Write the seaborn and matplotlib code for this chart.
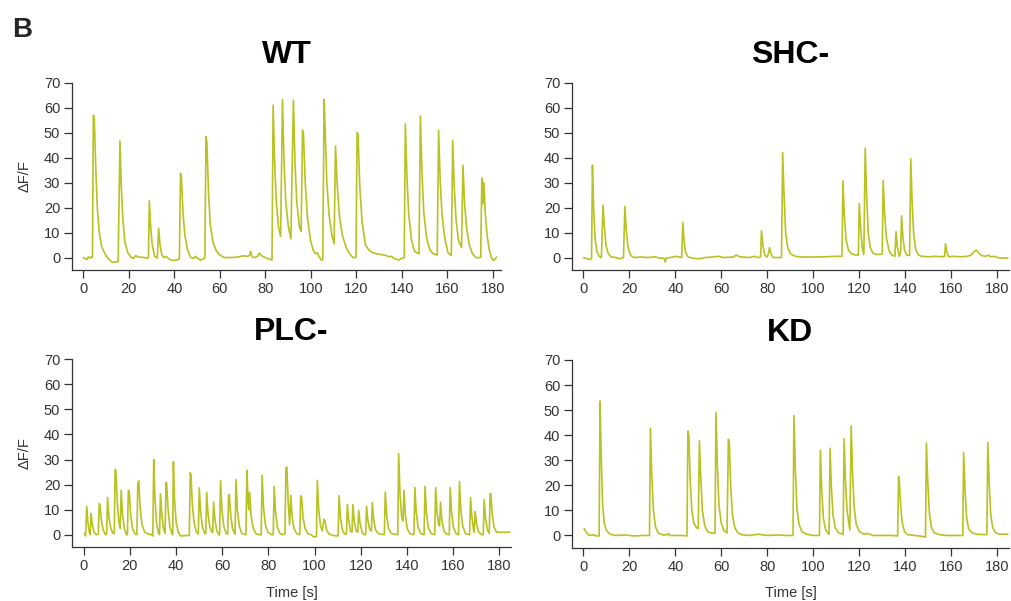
import matplotlib
matplotlib.use("Agg")
import matplotlib.pyplot as plt
import seaborn as sns
import pandas as pd

sns.set_style("ticks")
plt.rcParams["font.family"] = ["Liberation Sans", "DejaVu Sans"]

# (time [s], dF/F) vertices
wt_trace = [
    (0.0, 0.0), (0.8, -0.5), (1.5, -0.8), (2.2, 0.3), (2.8, -0.2), (3.5, 0.2), (4.0, 0.0),
    (4.4, 57.0), (4.8, 56.0), (5.5, 35.0), (6.2, 19.0), (7.0, 10.0), (8.0, 4.5), (9.5, 1.5),
    (11.0, -0.5), (12.5, -1.8), (14.0, -1.8), (15.3, -1.6),
    (16.1, 46.7), (16.7, 28.0), (17.4, 15.0), (18.3, 6.0), (19.5, 2.0), (21.0, 0.0), (22.0, -0.3),
    (23.0, 0.8), (24.0, 0.2), (26.0, 0.1), (28.0, -0.2), (28.6, 0.0),
    (29.0, 22.7), (29.6, 12.0), (30.3, 5.0), (31.3, 0.5), (32.5, -0.2),
    (33.1, 11.7), (33.7, 5.0), (34.5, 1.0), (35.5, 0.0), (36.3, 0.5), (37.5, -0.5), (39.0, -1.2),
    (41.0, -1.0), (42.2, -0.5),
    (42.7, 33.7), (43.1, 32.0), (43.8, 18.0), (44.6, 9.0), (45.8, 3.0), (47.2, 0.0), (48.5, -0.3),
    (49.3, 0.5), (50.5, -0.5), (51.5, -1.0), (52.8, -0.5), (53.4, 0.0),
    (53.9, 48.4), (54.3, 46.0), (55.0, 26.0), (55.8, 13.0), (57.0, 6.0), (58.5, 2.5), (60.0, 1.0),
    (62.0, 0.0), (65.0, 0.0), (68.0, 0.2), (70.0, 0.7), (72.0, 0.5), (73.0, 0.8), (73.5, 2.5),
    (74.2, 0.3), (75.5, 0.0), (76.5, 0.5), (77.3, 1.8), (78.3, 0.7), (80.0, 0.0), (81.5, -0.5), (82.9, -1.0),
    (83.4, 61.0), (84.0, 40.0), (84.8, 22.0), (85.8, 12.0), (86.7, 8.5),
    (87.5, 63.3), (88.2, 38.0), (89.0, 22.0), (90.0, 13.0), (91.2, 7.5),
    (92.3, 63.0), (93.0, 38.0), (93.8, 22.0), (95.0, 12.0), (95.7, 10.5),
    (96.3, 51.0), (96.7, 50.0), (97.5, 30.0), (98.5, 16.0), (99.8, 7.0), (101.0, 3.0), (102.0, 1.5),
    (102.8, 2.0), (103.5, 0.5), (104.5, -1.0), (105.2, -0.8),
    (105.8, 63.3), (106.3, 50.0), (107.0, 30.0), (108.0, 17.0), (109.2, 9.0), (110.2, 5.5),
    (110.8, 44.7), (111.5, 30.0), (112.5, 17.0), (113.8, 9.0), (115.5, 4.0), (117.0, 1.5),
    (118.5, 0.0), (119.8, 0.0),
    (120.3, 50.0), (120.7, 49.5), (121.5, 28.0), (122.5, 14.0), (124.0, 5.0), (125.5, 3.0),
    (127.0, 2.0), (129.0, 1.5), (131.0, 1.2), (133.0, 0.8), (134.5, 0.3), (135.5, 0.5),
    (136.5, -0.3), (138.5, -1.0), (139.5, -0.5), (141.0, 0.0),
    (141.5, 53.5), (142.2, 32.0), (143.0, 17.0), (144.2, 7.0), (145.5, 2.5), (147.5, 1.5),
    (148.1, 56.7), (148.8, 34.0), (149.6, 18.0), (150.8, 8.0), (152.3, 3.0), (153.8, 1.5), (155.5, 1.0),
    (156.1, 51.0), (156.8, 31.0), (157.6, 17.0), (158.8, 8.0), (160.2, 2.0), (161.7, 0.8),
    (162.3, 47.0), (163.0, 28.0), (163.8, 15.0), (164.8, 7.0), (166.2, 4.0),
    (166.8, 37.0), (167.5, 22.0), (168.4, 12.0), (169.6, 5.0), (171.0, 1.5), (172.5, 0.0), (174.6, 0.0),
    (175.1, 31.8), (175.6, 21.5), (176.0, 30.0), (176.6, 18.0), (177.4, 9.0), (178.4, 3.0),
    (179.3, 0.0), (180.2, -1.2), (181.0, -0.5), (181.6, 0.2),
]

shc_trace = [
    (0.0, 0.0), (1.0, -0.3), (2.5, -0.8), (3.5, -0.5),
    (3.9, 37.0), (4.4, 20.0), (5.0, 8.0), (5.8, 2.5), (6.8, 0.5), (7.8, 0.0),
    (8.5, 21.0), (9.1, 12.0), (9.8, 5.0), (10.8, 1.5), (12.0, 0.3), (14.0, 0.0), (15.5, -0.5), (17.4, 0.0),
    (18.0, 20.5), (18.6, 11.0), (19.4, 4.0), (20.5, 0.8), (22.0, 0.0), (25.0, 0.2), (28.0, 0.0),
    (31.0, 0.3), (33.0, -0.2), (35.0, -0.3), (35.5, -1.8), (36.0, -0.2), (39.0, 0.2), (40.0, 0.5),
    (41.5, 0.3), (42.7, 0.0),
    (43.2, 14.0), (43.7, 7.0), (44.4, 2.0), (45.5, 0.2), (48.0, -0.3), (50.0, -0.5), (53.0, 0.0),
    (56.0, 0.2), (58.5, 0.5), (61.0, 0.0), (65.0, 0.2), (66.5, 1.0), (68.0, 0.3), (72.0, 0.0),
    (74.5, 0.5), (76.0, 0.0), (77.0, 0.2),
    (77.4, 10.7), (78.0, 5.0), (78.8, 1.0), (79.8, 0.2), (80.4, 1.5), (80.9, 4.0), (81.5, 1.5),
    (82.5, 0.0), (86.1, 0.0),
    (86.6, 42.0), (87.2, 25.0), (87.9, 10.0), (88.8, 4.0), (90.0, 1.5), (92.0, 0.5), (95.0, 0.2),
    (100.0, 0.2), (105.0, 0.3), (110.0, 0.5), (112.4, 0.5),
    (112.8, 30.7), (113.4, 17.0), (114.2, 7.0), (115.2, 3.0), (116.5, 1.5), (118.5, 1.0), (119.5, 1.0),
    (119.9, 21.6), (120.5, 12.0), (121.2, 4.0), (121.9, 1.2),
    (122.5, 43.8), (123.1, 25.0), (123.8, 10.0), (124.7, 4.0), (125.8, 1.8), (127.5, 1.2),
    (129.5, 1.3), (129.9, 1.5),
    (130.3, 30.9), (130.9, 18.0), (131.7, 8.0), (132.8, 3.0), (134.0, 1.0), (135.4, 0.5),
    (135.9, 10.4), (136.5, 4.0), (137.3, 0.5), (137.9, 2.0),
    (138.3, 16.7), (138.9, 8.0), (139.6, 3.0), (140.5, 1.0), (141.8, 0.8),
    (142.3, 39.6), (142.9, 22.0), (143.6, 9.0), (144.5, 3.0), (145.7, 1.0), (147.0, 0.5),
    (150.0, 0.3), (153.0, 0.5), (156.0, 0.3), (157.0, 0.5),
    (157.4, 5.5), (158.0, 2.0), (158.8, 0.3), (161.0, 0.5), (164.0, 0.3), (167.0, 0.5),
    (168.5, 1.0), (170.0, 2.5), (170.8, 3.0), (171.8, 2.0), (173.0, 0.8), (175.0, 0.5),
    (176.0, 1.0), (177.0, 0.3), (179.0, 0.5), (180.0, 0.0), (182.0, -0.2), (184.5, -0.2),
]

plc_trace = [
    (0.4, 0.5), (0.9, -0.5),
    (1.4, 11.3), (1.9, 5.0), (2.5, 1.0), (2.9, 0.0),
    (3.3, 8.4), (3.8, 4.0), (4.6, 1.0), (5.5, 0.0), (6.4, 0.3),
    (6.8, 12.4), (7.1, 12.0), (7.7, 6.0), (8.5, 2.0), (9.5, 0.0), (10.0, 0.2),
    (10.4, 14.8), (11.0, 7.0), (11.8, 2.5), (12.8, 0.5), (13.3, 0.5),
    (13.7, 26.0), (14.0, 25.5), (14.6, 13.0), (15.3, 5.0), (15.9, 2.5),
    (16.3, 17.7), (16.9, 8.0), (17.7, 2.5), (18.6, 0.0), (19.0, 0.0),
    (19.4, 17.7), (19.8, 17.5), (20.4, 8.0), (21.2, 2.5), (22.2, 0.5), (23.1, 0.0),
    (23.5, 20.4), (23.9, 21.5), (24.5, 11.0), (25.3, 4.0), (26.5, 1.0), (28.0, 0.3), (29.5, 0.0), (30.0, -0.5),
    (30.4, 30.0), (30.9, 15.0), (31.6, 5.0), (32.4, 1.0), (32.9, 0.0),
    (33.3, 16.4), (33.9, 8.0), (34.6, 2.5), (35.3, 0.5),
    (35.7, 21.0), (36.0, 20.5), (36.6, 10.0), (37.4, 3.0), (38.3, 0.3), (38.6, 0.0),
    (38.9, 29.1), (39.4, 14.0), (40.1, 5.0), (41.0, 1.0), (42.0, -0.5), (44.0, -0.3), (45.8, -0.3),
    (46.2, 24.7), (46.5, 24.0), (47.1, 12.0), (47.9, 4.5), (48.9, 1.0), (49.7, 0.3),
    (50.1, 18.7), (50.7, 9.0), (51.5, 3.0), (52.5, 0.5), (52.9, 0.3),
    (53.3, 17.0), (53.9, 8.0), (54.7, 3.0), (55.6, 1.0), (55.9, 1.0),
    (56.3, 13.0), (56.9, 6.0), (57.7, 1.5), (58.6, 0.0), (58.9, 0.0),
    (59.3, 21.7), (59.9, 10.0), (60.7, 3.5), (61.7, 0.5), (62.4, 0.3),
    (62.8, 15.7), (63.1, 16.0), (63.7, 8.0), (64.5, 2.5), (65.4, 0.5), (65.6, 0.3),
    (66.0, 22.0), (66.6, 10.0), (67.4, 3.5), (68.5, 0.5), (70.3, 0.0),
    (70.7, 25.7), (71.2, 14.0), (71.5, 10.0), (71.9, 17.0), (72.5, 8.0), (73.3, 3.0), (74.5, 0.5),
    (76.0, 0.0), (76.9, 0.0),
    (77.3, 23.7), (77.9, 11.0), (78.7, 4.0), (79.8, 1.0), (81.5, 0.0), (82.1, 0.0),
    (82.5, 19.3), (83.1, 9.0), (83.9, 3.0), (85.0, 0.5), (86.5, 0.0), (87.2, 0.5),
    (87.6, 26.5), (88.0, 27.0), (88.6, 13.0), (89.2, 4.0),
    (89.7, 15.7), (90.3, 7.0), (91.1, 2.5), (92.2, 0.5), (93.6, 0.0),
    (94.0, 15.5), (94.4, 15.0), (95.0, 7.0), (95.9, 2.5), (97.0, 0.5), (98.5, 0.0), (99.5, -0.8), (100.8, -0.8),
    (101.2, 21.7), (101.8, 10.0), (102.6, 3.5), (103.3, 1.5),
    (104.0, 6.1), (104.5, 5.5), (105.2, 2.0), (106.2, 0.3), (108.0, -0.3), (110.2, -0.5),
    (110.6, 15.6), (111.2, 7.0), (112.0, 2.0), (113.0, 0.3), (113.8, 0.3),
    (114.2, 12.1), (114.8, 5.5), (115.6, 1.5), (116.2, 1.0),
    (116.6, 12.0), (117.2, 5.5), (118.0, 1.5), (118.7, 1.0),
    (119.1, 9.7), (119.7, 4.5), (120.6, 1.0), (121.5, 0.0), (122.1, 0.0),
    (122.5, 11.3), (123.1, 5.5), (123.9, 2.0), (124.6, 1.5),
    (125.0, 12.9), (125.6, 6.0), (126.4, 2.0), (127.5, 0.5), (130.2, 0.0),
    (130.6, 17.0), (131.2, 8.0), (132.0, 2.5), (133.2, 0.5), (136.0, 0.0),
    (136.4, 32.4), (137.0, 16.0), (137.7, 7.0), (138.3, 5.5),
    (138.7, 17.7), (139.3, 8.0), (140.1, 2.5), (141.2, 0.5), (143.0, 0.0),
    (143.4, 18.9), (144.0, 9.0), (144.8, 3.0), (146.0, 0.5), (147.4, 0.0),
    (147.8, 19.3), (148.4, 9.0), (149.2, 3.0), (150.4, 0.5), (152.0, 0.0),
    (152.4, 18.8), (153.0, 9.0), (153.7, 4.0), (154.1, 3.5),
    (154.5, 13.0), (155.1, 6.0), (156.0, 1.5), (157.2, 0.2), (158.3, 0.0),
    (158.7, 18.8), (159.3, 9.0), (160.1, 3.0), (161.2, 0.5), (162.3, 0.0),
    (162.7, 21.2), (163.3, 10.0), (164.1, 3.5), (165.3, 0.5), (167.1, 0.0),
    (167.5, 14.8), (168.1, 7.0), (168.8, 2.0), (169.1, 1.0),
    (169.5, 9.3), (170.1, 4.5), (171.0, 1.0), (172.5, 0.0), (173.0, 0.0),
    (173.4, 14.0), (174.0, 6.5), (174.8, 2.0), (175.6, 0.5),
    (176.0, 16.4), (176.3, 16.4), (176.9, 8.0), (177.7, 3.0), (178.8, 1.0), (181.0, 1.0), (184.5, 1.0),
]

kd_trace = [
    (0.3, 2.7), (1.0, 1.5), (2.0, 0.3), (3.5, 0.0), (4.5, 0.3), (5.5, -0.2), (6.8, -0.2),
    (7.2, 53.6), (7.7, 32.0), (8.3, 13.0), (9.0, 5.0), (10.0, 2.0), (11.5, 0.5), (14.0, 0.0),
    (18.0, 0.2), (22.0, -0.2), (26.0, 0.0), (28.7, 0.0),
    (29.1, 42.8), (29.7, 24.0), (30.4, 10.0), (31.3, 3.5), (32.5, 1.0), (34.5, 0.2), (36.5, 0.3),
    (37.0, 0.8), (37.5, 0.0), (40.0, 0.0), (43.0, 0.0), (45.0, -0.2),
    (45.4, 41.7), (45.8, 40.0), (46.4, 22.0), (47.1, 10.0), (48.0, 5.0), (49.2, 3.0), (49.9, 2.8),
    (50.4, 37.7), (51.0, 23.0), (51.7, 10.0), (52.7, 4.0), (54.0, 1.5), (55.5, 1.0), (57.2, 0.8),
    (57.6, 49.0), (58.2, 28.0), (58.9, 12.0), (59.9, 5.0), (61.0, 2.0), (62.4, 1.0),
    (63.0, 38.4), (63.4, 37.0), (64.0, 20.0), (64.8, 8.0), (65.8, 3.0), (67.2, 1.0), (69.0, 0.3),
    (72.0, 0.0), (76.0, 0.5), (80.0, 0.0), (84.0, 0.2), (88.0, 0.0), (91.1, 0.0),
    (91.5, 47.8), (92.1, 27.0), (92.8, 11.0), (93.7, 4.5), (95.0, 1.5), (97.0, 0.5), (100.0, 0.0), (102.6, 0.0),
    (103.0, 34.0), (103.6, 18.0), (104.3, 7.0), (105.2, 2.5), (106.5, 0.7), (106.8, 0.5),
    (107.2, 34.8), (107.8, 19.0), (108.5, 8.0), (109.5, 3.0), (111.0, 1.0), (112.9, 0.5),
    (113.3, 38.5), (113.9, 22.0), (114.6, 10.0), (115.8, 2.2),
    (116.4, 43.7), (117.0, 25.0), (117.7, 11.0), (118.6, 4.5), (120.0, 1.5), (122.0, 0.5),
    (123.5, 0.8), (126.0, 0.0), (130.0, 0.0), (134.0, 0.0), (136.6, -0.2),
    (137.0, 23.5), (137.3, 22.0), (137.9, 12.0), (138.6, 5.0), (139.6, 1.5), (141.0, 0.3),
    (144.0, 0.0), (147.0, -0.3), (148.7, -0.7),
    (149.1, 36.8), (149.7, 21.0), (150.4, 9.0), (151.3, 3.0), (152.6, 1.0), (155.0, 0.3),
    (158.0, 0.0), (162.0, 0.0), (164.9, 0.0),
    (165.3, 33.0), (165.9, 18.0), (166.6, 7.0), (167.5, 2.5), (169.0, 1.0), (171.0, 0.5), (175.4, 0.3),
    (175.8, 37.0), (176.4, 21.0), (177.1, 8.0), (178.0, 3.0), (179.2, 1.0), (181.0, 0.5), (184.5, 0.5),
]

titles = ["WT", "SHC-", "PLC-", "KD"]
x_ticks = list(range(0, 181, 20))
y_ticks = list(range(0, 71, 10))
line_color = "#b8c220"
ink = "#333333"

fig = plt.figure(figsize=(10.12, 6.01), dpi=100)

# axes rectangles in figure fractions (left, bottom, width, height)
rects = [
    (0.0711, 0.5507, 0.4239, 0.3116),
    (0.5652, 0.5507, 0.4318, 0.3116),
    (0.0711, 0.0894, 0.4338, 0.3128),
    (0.5652, 0.0882, 0.4318, 0.3128),
]
xlims = [(-5, 183.5), (-5, 185), (-5, 185), (-5, 185)]
traces = [wt_trace, shc_trace, plc_trace, kd_trace]

for i, (trace, title, rect) in enumerate(zip(traces, titles, rects)):
    ax = fig.add_axes(rect)
    df = pd.DataFrame(trace, columns=["time", "dff"])
    sns.lineplot(data=df, x="time", y="dff", ax=ax, color=line_color,
                 linewidth=1.2, estimator=None, sort=False)
    ax.set_xlim(*xlims[i])
    ax.set_ylim(-5, 70)
    ax.set_xticks(x_ticks)
    ax.set_yticks(y_ticks)
    sns.despine(ax=ax)
    for side in ["left", "bottom"]:
        ax.spines[side].set_color(ink)
        ax.spines[side].set_linewidth(0.9)
    ax.tick_params(direction="out", length=5.5, width=0.9, color=ink,
                   labelcolor=ink, labelsize=10.5, pad=3)
    ax.set_title(title, fontsize=23, fontweight="bold", pad=14, color="black")
    ax.set_ylabel("ΔF/F" if i % 2 == 0 else "", fontsize=10.5, color=ink, labelpad=9)
    ax.set_xlabel("Time [s]" if i >= 2 else "", fontsize=10.5, color=ink, labelpad=9)
    ax.grid(False)

fig.text(0.012, 0.972, "B", fontsize=20, fontweight="bold", va="top", ha="left")

fig.savefig("out.png", dpi=100)
